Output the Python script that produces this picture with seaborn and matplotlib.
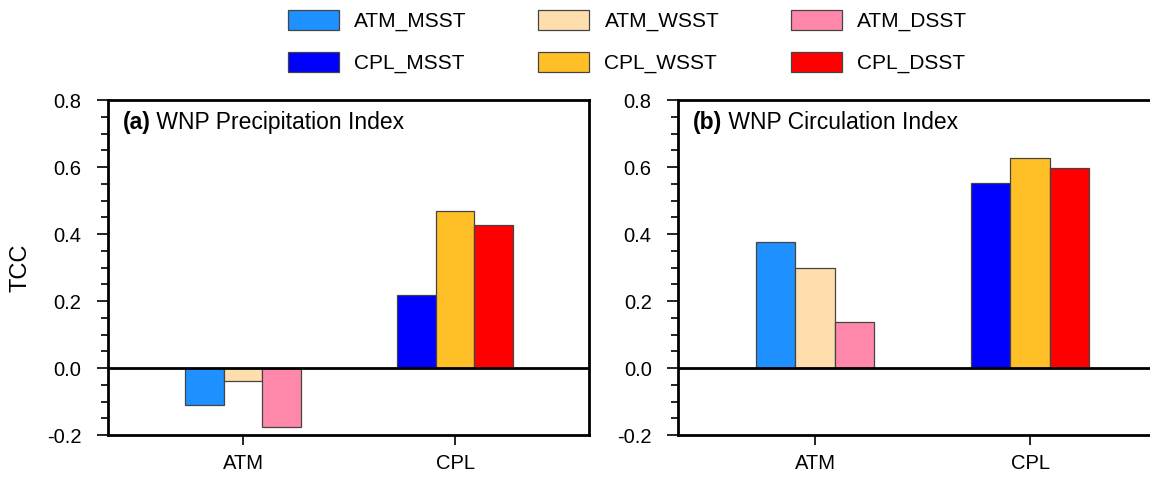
import pandas as pd
import numpy as np
import matplotlib
matplotlib.use('Agg')
import matplotlib.pyplot as plt
from matplotlib.patches import Patch
from matplotlib.ticker import MultipleLocator
import seaborn as sns

sns.set_theme(style="ticks")
plt.rcParams['font.family'] = ['Liberation Sans', 'DejaVu Sans']
for key in ['text.color', 'axes.labelcolor', 'xtick.color', 'ytick.color',
            'axes.edgecolor']:
    plt.rcParams[key] = 'black'

# values
groups = ['ATM', 'CPL']
sst_types = ['MSST', 'WSST', 'DSST']
precip_atm = [-0.110, -0.040, -0.176]
precip_cpl = [0.218, 0.469, 0.427]
circ_atm = [0.376, 0.299, 0.137]
circ_cpl = [0.552, 0.627, 0.597]
panel_titles = ['(a)', '(b)']
panel_names = ['WNP Precipitation Index', 'WNP Circulation Index']
yticks = [-0.2, 0.0, 0.2, 0.4, 0.6, 0.8]

colors = {
    'ATM': ['#1E90FF', '#FFDEAD', '#FF88AA'],
    'CPL': ['#0000FF', '#FFBF27', '#FF0000'],
}
edge = '#444444'


def make_df(atm, cpl):
    rows = []
    for g, vals in zip(groups, [atm, cpl]):
        for s, v in zip(sst_types, vals):
            rows.append({'group': g, 'sst': s, 'tcc': v})
    return pd.DataFrame(rows)


fig = plt.figure(figsize=(11.5, 4.82), dpi=100)
ax1 = fig.add_axes([0.0939, 0.0975, 0.4183, 0.695])
ax2 = fig.add_axes([0.5896, 0.0975, 0.4243, 0.695])

datasets = [make_df(precip_atm, precip_cpl), make_df(circ_atm, circ_cpl)]

for i, (ax, df) in enumerate(zip([ax1, ax2], datasets)):
    sns.barplot(data=df, x='group', y='tcc', hue='sst', order=groups,
                hue_order=sst_types, width=0.547, ax=ax, legend=False,
                edgecolor=edge, linewidth=0.9, saturation=1)
    # ATM and CPL groups have their own colour sets
    for h, cont in enumerate(ax.containers):
        for j, bar in enumerate(cont):
            bar.set_facecolor(colors[groups[j]][h])
    ax.axhline(0, color='black', lw=2.0, zorder=3)
    ax.set_xlim(-0.637, 1.632)
    ax.set_ylim(-0.2, 0.8)
    ax.set_yticks(yticks)
    ax.set_yticklabels(['%.1f' % v for v in yticks])
    ax.yaxis.set_minor_locator(MultipleLocator(0.05))
    ax.tick_params(axis='y', which='major', direction='out', length=8,
                   width=1.2, labelsize=14.5, pad=11)
    ax.tick_params(axis='y', which='minor', direction='out', length=5,
                   width=1.2)
    ax.tick_params(axis='x', direction='out', length=7, width=1.2,
                   labelsize=14.5, pad=7)
    ax.set_xlabel('')
    ax.set_ylabel('')
    for sp in ax.spines.values():
        sp.set_linewidth(2.0)
        sp.set_visible(True)
    t = ax.text(0.03, 0.932, panel_titles[i], transform=ax.transAxes,
                fontsize=16.5, fontweight='bold', va='center', ha='left')
    ax.annotate(' ' + panel_names[i], xy=(1, 0.5), xycoords=t,
                va='center', ha='left', fontsize=16.5)

ax1.set_ylabel('TCC', fontsize=17, labelpad=11)

handles = []
labels = []
for s_i, s in enumerate(sst_types):
    for g in groups:
        handles.append(Patch(facecolor=colors[g][s_i], edgecolor=edge,
                             linewidth=0.9))
        labels.append(g + '_' + s)

fig.legend(handles, labels, ncol=3, loc='upper left',
           bbox_to_anchor=(288 / 1150, 0.979), borderaxespad=0,
           borderpad=0, frameon=False, fontsize=15,
           handlelength=2.45, handleheight=1.1, columnspacing=3.45,
           labelspacing=0.97, handletextpad=0.72)

fig.savefig('out.png', dpi=100)
